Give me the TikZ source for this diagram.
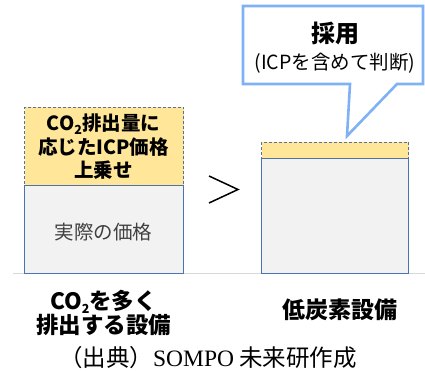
\documentclass[tikz,border=0pt]{standalone}
\usepackage{fontspec}
\newfontfamily\jp{Noto Sans CJK JP}
\newfontfamily\jpserif{Liberation Serif}
\definecolor{goldfill}{HTML}{FFE699}
\definecolor{dashblue}{HTML}{5B7095}
\definecolor{boxgray}{HTML}{F2F2F2}
\definecolor{boxblue}{HTML}{4A72B8}
\definecolor{callblue}{HTML}{7EB2F5}
\definecolor{baselngray}{HTML}{D9D9D9}
\definecolor{txtgray}{HTML}{404040}
\newcommand{\subtwo}{\raisebox{-0.3ex}{\fontsize{12.5}{12.5}\selectfont 2}}
\tikzset{
  graybox/.style={draw=boxblue, line width=0.9pt, fill=boxgray, anchor=north west, inner sep=0pt},
  goldbox/.style={draw=dashblue, line width=1pt, dash pattern=on 3pt off 2pt, fill=goldfill, anchor=north west, inner sep=0pt},
  lbl/.style={font=\jp, align=center, inner sep=0pt},
}
\begin{document}
\begin{tikzpicture}[x=1pt, y=-1pt]
\useasboundingbox (0,0) rectangle (425,371);
% baseline
\coordinate (bl) at (13,273.5);
\coordinate (br) at (425,273.5);
\draw[draw=baselngray, line width=1.2pt] (bl) -- (br);
% left boxes
\node[graybox, minimum width=159, minimum height=88] (lg) at (24,185) {};
\node[goldbox, minimum width=159, minimum height=78] (ly) at (24,107) {};
% right boxes
\node[graybox, minimum width=147, minimum height=115] (rg) at (261,158) {};
\node[goldbox, minimum width=147, minimum height=16] (ry) at (261,142) {};
% texts in boxes
\node[lbl, font=\jp\bfseries\fontsize{19.5}{23.5}\selectfont] (lyt) at (103.5,147) {CO\subtwo 排出量に\\応じたICP価格\\上乗せ};
\node[lbl, text=txtgray, font=\jp\fontsize{19.5}{19.5}\selectfont] (lgt) at (103.5,232) {実際の価格};
% greater-than sign
\coordinate (g1) at (209,176);
\coordinate (g2) at (238,189.5);
\coordinate (g3) at (209,203);
\draw[line width=1.5pt] (g1) -- (g2) -- (g3);
% callout
\coordinate (c1) at (243,6);
\coordinate (c2) at (423,6);
\coordinate (c3) at (423,84);
\coordinate (c4) at (397,84);
\coordinate (tip) at (347,136);
\coordinate (c5) at (350,84);
\coordinate (c6) at (243,84);
\draw[callblue, line width=2.6pt, fill=white, line join=miter] (c1) -- (c2) -- (c3) -- (c4) -- (tip) -- (c5) -- (c6) -- cycle;
\node[lbl, font=\jp\bfseries\fontsize{24}{24}\selectfont] (adopt) at (335,33) {採用};
\node[lbl, font=\jp\fontsize{19.5}{19.5}\selectfont] (adoptsub) at (335,63) {(ICPを含めて判断)};
% bottom labels
\node[lbl, font=\jp\bfseries\fontsize{22.5}{21.5}\selectfont] (ll) at (103.5,313) {CO\subtwo を多く\\排出する設備};
\node[lbl, font=\jp\bfseries\fontsize{23}{23}\selectfont] (rl) at (340,310) {低炭素設備};
% caption
\node[lbl, font=\jp\fontsize{23.5}{23.5}\selectfont] (cap) at (208,358) {（出典）{\jpserif SOMPO} 未来研作成};
\end{tikzpicture}
\end{document}
